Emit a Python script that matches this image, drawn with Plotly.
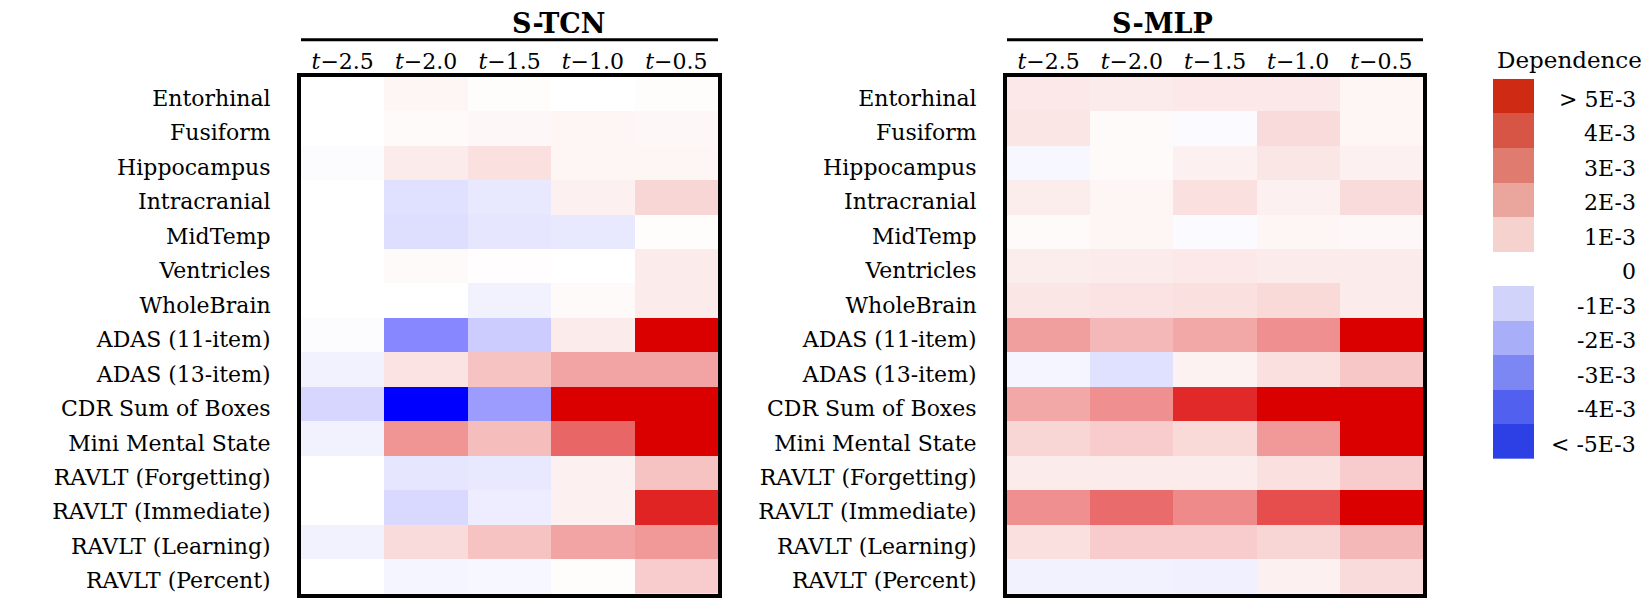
import plotly.graph_objects as go

# dependence values, in units of 1E-3
features = ["Entorhinal", "Fusiform", "Hippocampus", "Intracranial", "MidTemp",
            "Ventricles", "WholeBrain", "ADAS (11-item)", "ADAS (13-item)",
            "CDR Sum of Boxes", "Mini Mental State", "RAVLT (Forgetting)",
            "RAVLT (Immediate)", "RAVLT (Learning)", "RAVLT (Percent)"]
lags = ["t-2.5", "t-2.0", "t-1.5", "t-1.0", "t-0.5"]
lag_labels = ["<i>t</i>\u22122.5", "<i>t</i>\u22122.0", "<i>t</i>\u22121.5",
              "<i>t</i>\u22121.0", "<i>t</i>\u22120.5"]

tcn_vals = [
    [0.0, 0.2, 0.05, 0.0, 0.05],
    [0.0, 0.1, 0.15, 0.2, 0.15],
    [-0.05, 0.4, 0.6, 0.2, 0.2],
    [0.0, -0.6, -0.45, 0.3, 0.8],
    [0.0, -0.65, -0.5, -0.45, 0.05],
    [0.0, 0.1, 0.03, 0.0, 0.4],
    [0.0, 0.0, -0.25, 0.1, 0.4],
    [-0.05, -2.35, -1.0, 0.4, 5.0],
    [-0.25, 0.55, 1.2, 1.8, 1.8],
    [-0.8, -5.0, -1.95, 5.0, 5.0],
    [-0.25, 2.1, 1.3, 3.0, 5.0],
    [0.0, -0.5, -0.45, 0.3, 1.2],
    [0.0, -0.75, -0.35, 0.3, 4.3],
    [-0.25, 0.7, 1.2, 1.8, 2.0],
    [0.0, -0.2, -0.15, 0.05, 1.0],
]

mlp_vals = [
    [0.45, 0.4, 0.45, 0.45, 0.2],
    [0.5, 0.1, -0.1, 0.7, 0.2],
    [-0.15, 0.1, 0.3, 0.5, 0.3],
    [0.35, 0.2, 0.6, 0.3, 0.7],
    [0.1, 0.2, -0.1, 0.2, 0.15],
    [0.35, 0.4, 0.45, 0.4, 0.4],
    [0.5, 0.55, 0.6, 0.75, 0.4],
    [1.9, 1.4, 1.7, 2.2, 5.0],
    [-0.2, -0.6, 0.25, 0.6, 1.1],
    [1.7, 2.2, 4.2, 5.0, 5.0],
    [0.8, 1.0, 0.75, 2.0, 5.0],
    [0.4, 0.4, 0.4, 0.6, 1.0],
    [2.2, 2.9, 2.3, 3.5, 5.0],
    [0.6, 1.0, 1.0, 0.8, 1.4],
    [-0.25, -0.25, -0.3, 0.3, 0.7],
]

legend_levels = [5, 4, 3, 2, 1, 0, -1, -2, -3, -4, -5]
legend_labels = ["> 5E-3", "4E-3", "3E-3", "2E-3", "1E-3", "0",
                 "-1E-3", "-2E-3", "-3E-3", "-4E-3", "< -5E-3"]
legend_colors = ["#cf2a14", "#d75545", "#e07b70", "#eaa69d", "#f5d2cd", "#ffffff",
                 "#d2d3fa", "#a8aef8", "#7d87f3", "#5260f0", "#2d40e5"]

FONT = "DejaVu Serif"
W, H = 1634, 590  # page adds an 8px body margin around the figure


def fx(px):
    return (px - 8) / W


def fy(py):
    return 1 - (py - 8) / H


cscale = [[0.0, "rgb(0,0,255)"], [0.5, "rgb(255,255,255)"], [1.0, "rgb(219,0,0)"]]

fig = go.Figure()
fig.add_trace(go.Heatmap(z=tcn_vals, x=lags, y=features, colorscale=cscale,
                         zmin=-5, zmax=5, showscale=False, xaxis="x", yaxis="y"))
fig.add_trace(go.Heatmap(z=mlp_vals, x=lags, y=features, colorscale=cscale,
                         zmin=-5, zmax=5, showscale=False, xaxis="x2", yaxis="y2"))

# discrete legend as its own little heatmap
n = len(legend_levels)
leg_scale = []
for i, c in enumerate(legend_colors[::-1]):
    leg_scale.append([i / n, c])
    leg_scale.append([(i + 1) / n, c])
fig.add_trace(go.Heatmap(z=[[v] for v in legend_levels], x=[0],
                         colorscale=leg_scale, zmin=-5.5, zmax=5.5, showscale=False,
                         xaxis="x3", yaxis="y3", hoverinfo="skip"))

ax_common = dict(showline=True, linecolor="black", linewidth=4, mirror=True,
                 ticks="", showgrid=False, zeroline=False)
xdom1 = [fx(301), fx(718)]
xdom2 = [fx(1007), fx(1423)]
ydom = [fy(597), fy(77)]

fig.update_layout(
    width=W, height=H,
    margin=dict(l=0, r=0, t=0, b=0),
    plot_bgcolor="white", paper_bgcolor="white",
    font=dict(family=FONT, size=22, color="black"),
    xaxis=dict(domain=xdom1, side="top", tickvals=lags, ticktext=lag_labels,
               ticklabelstandoff=-5, **ax_common),
    yaxis=dict(domain=ydom, autorange="reversed", ticklabelstandoff=22,
               ticklabelshift=-4, **ax_common),
    xaxis2=dict(domain=xdom2, side="top", tickvals=lags, ticktext=lag_labels,
                ticklabelstandoff=-5, anchor="y2", **ax_common),
    yaxis2=dict(domain=ydom, autorange="reversed", ticklabelstandoff=22,
                ticklabelshift=-4, anchor="x2", **ax_common),
    xaxis3=dict(domain=[fx(1493), fx(1534)], visible=False, anchor="y3"),
    yaxis3=dict(domain=[fy(461), fy(79)], autorange="reversed",
                visible=False, anchor="x3"),
)

for i, lbl in enumerate(legend_labels):
    fig.add_annotation(x=fx(1638), xref="paper", y=i, yref="y3", text=lbl,
                       showarrow=False, xanchor="right", yanchor="middle",
                       yshift=-3, font=dict(family=FONT, size=22))
fig.add_annotation(x=fx(1644), xref="paper", y=fy(60), yref="paper",
                   text="Dependence", showarrow=False, xanchor="right",
                   yanchor="middle", font=dict(family=FONT, size=23))

for dom, name in [(xdom1, "S-TCN"), (xdom2, "S-MLP")]:
    fig.add_annotation(x=(dom[0] + dom[1]) / 2, xref="paper", y=fy(24),
                       yref="paper", text="<b>" + name + "</b>", showarrow=False,
                       yanchor="middle", font=dict(family=FONT, size=27))
    fig.add_shape(type="line", xref="paper", yref="paper", x0=dom[0], x1=dom[1],
                  y0=fy(40), y1=fy(40), line=dict(color="black", width=3))

fig.write_html("out.html")
